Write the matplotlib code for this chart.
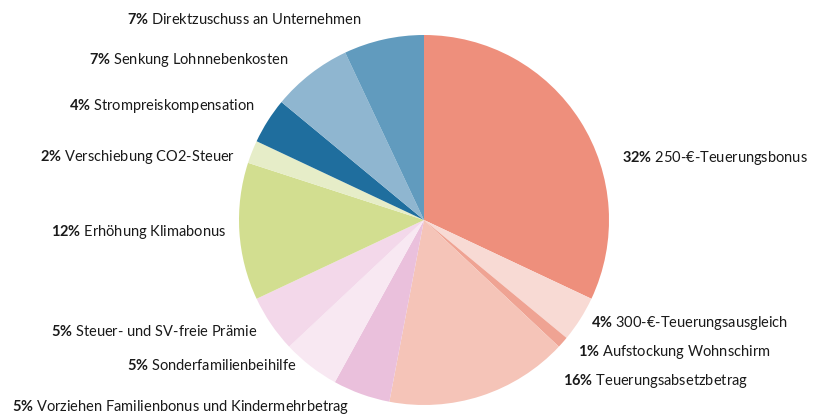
import matplotlib.pyplot as plt

plt.rcParams["font.family"] = ["Lato", "DejaVu Sans"]
plt.rcParams["mathtext.fontset"] = "custom"
plt.rcParams["mathtext.bf"] = "Lato:bold"
plt.rcParams["mathtext.rm"] = "Lato"

# data, clockwise from 12 o'clock
labels = [
    "250-€-Teuerungsbonus",
    "300-€-Teuerungsausgleich",
    "Aufstockung Wohnschirm",
    "Teuerungsabsetzbetrag",
    "Vorziehen Familienbonus und Kindermehrbetrag",
    "Sonderfamilienbeihilfe",
    "Steuer- und SV-freie Prämie",
    "Erhöhung Klimabonus",
    "Verschiebung CO2-Steuer",
    "Strompreiskompensation",
    "Senkung Lohnnebenkosten",
    "Direktzuschuss an Unternehmen",
]
shares = [32, 4, 1, 16, 5, 5, 5, 12, 2, 4, 7, 7]
colors = [
    "#EE8F7C", "#F8DAD4", "#EFA393", "#F5C4B8",
    "#EAC0DC", "#F8E8F2", "#F3D8EA",
    "#D2DE90", "#E6EDC8",
    "#1F6E9E", "#8FB6D0", "#619BBE",
]

# label anchor positions in pixels (x, y from top, alignment)
label_pos = [
    (622, 158, "left"),
    (591, 323, "left"),
    (578, 352, "left"),
    (563, 381, "left"),
    (12, 407, "left"),
    (296, 366, "right"),
    (257, 331, "right"),
    (226, 232, "right"),
    (235, 157, "right"),
    (255, 106, "right"),
    (288, 60, "right"),
    (362, 19, "right"),
]

W, H = 822, 416
fig = plt.figure(figsize=(W / 100, H / 100), dpi=100)
ax = fig.add_axes([0, 0, 1, 1])

ax.pie(shares, colors=colors, startangle=90, counterclock=False,
       center=(424, H - 220), radius=185,
       wedgeprops=dict(linewidth=0))

for lab, val, (x, y, ha) in zip(labels, shares, label_pos):
    txt = r"$\mathbf{" + f"{val}" + r"\%}$ " + lab
    ax.text(x, H - y, txt, ha=ha, va="center", fontsize=10.5, color="#1a1a1a")

ax.set_xlim(0, W)
ax.set_ylim(0, H)
ax.set_aspect("equal")
ax.axis("off")

fig.savefig("out.png", dpi=100)
